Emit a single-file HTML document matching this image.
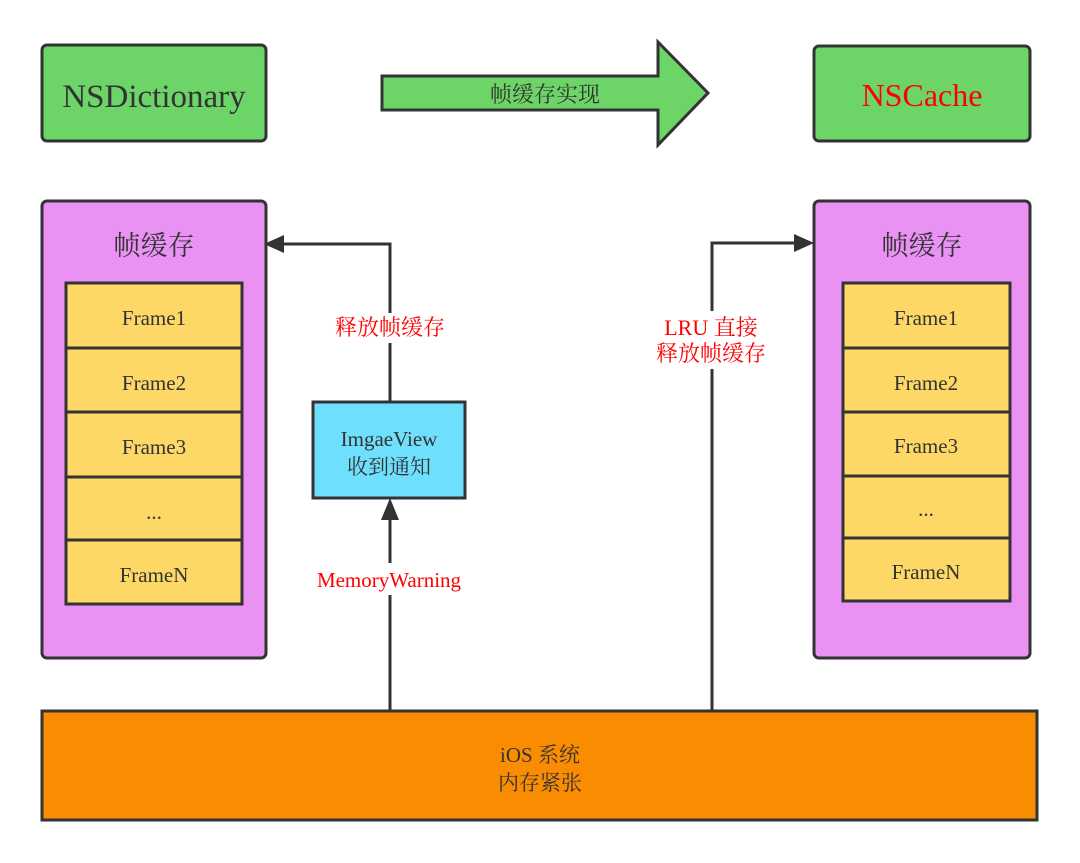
<!DOCTYPE html>
<html><head><meta charset="utf-8"><style>
html,body{margin:0;padding:0;background:#fff;}
svg{display:block;}
text{font-family:"Liberation Serif","Noto Serif CJK SC",serif;}
</style></head><body>
<svg width="1080" height="863" viewBox="0 0 1080 863" xmlns="http://www.w3.org/2000/svg">
<g stroke="#333" stroke-width="3">
<rect x="42" y="45" width="224" height="96" rx="5" fill="#6dd567"/>
<polygon points="382,76 658,76 658,42 708,93 658,145 658,110 382,110" fill="#6dd567"/>
<rect x="814" y="46" width="216" height="95" rx="5" fill="#6dd567"/>
<rect x="42" y="201" width="224" height="457" rx="5" fill="#ea92f3"/>
<rect x="814" y="201" width="216" height="457" rx="5" fill="#ea92f3"/>
<rect x="66" y="283" width="176" height="321" fill="#fdd867"/>
<line x1="66" y1="348" x2="242" y2="348"/><line x1="66" y1="412" x2="242" y2="412"/>
<line x1="66" y1="477" x2="242" y2="477"/><line x1="66" y1="540" x2="242" y2="540"/>
<rect x="843" y="283" width="167" height="318" fill="#fdd867"/>
<line x1="843" y1="348" x2="1010" y2="348"/><line x1="843" y1="412" x2="1010" y2="412"/>
<line x1="843" y1="476" x2="1010" y2="476"/><line x1="843" y1="538" x2="1010" y2="538"/>
<rect x="313" y="402" width="152" height="96" fill="#6ee0fd"/>
<rect x="42" y="711" width="995" height="109" fill="#f98c00"/>
<polyline points="390,402 390,244 282,244" fill="none"/>
<line x1="390" y1="710" x2="390" y2="518"/>
<polyline points="712,710 712,243 796,243" fill="none"/>
</g>
<g fill="#333">
<polygon points="264,244 284,235 284,253"/>
<polygon points="390,498 381,520 399,520"/>
<polygon points="814,243 794,234 794,252"/>
</g>
<rect x="330" y="313" width="120" height="30" fill="#fff"/>
<rect x="650" y="311" width="124" height="58" fill="#fff"/>
<rect x="308" y="563" width="164" height="32" fill="#fff"/>
<g text-anchor="middle" fill="#333">
<text x="154" y="107" font-size="33">NSDictionary</text>
<text x="545" y="102" font-size="22">帧缓存实现</text>
<text x="922" y="106" font-size="32" fill="#f00">NSCache</text>
<text x="154" y="255" font-size="27">帧缓存</text>
<text x="922" y="255" font-size="27">帧缓存</text>
<text x="154" y="325" font-size="21">Frame1</text>
<text x="154" y="390" font-size="21">Frame2</text>
<text x="154" y="454" font-size="21">Frame3</text>
<text x="154" y="519" font-size="21">...</text>
<text x="154" y="582" font-size="21">FrameN</text>
<text x="926" y="325" font-size="21">Frame1</text>
<text x="926" y="390" font-size="21">Frame2</text>
<text x="926" y="453" font-size="21">Frame3</text>
<text x="926" y="516" font-size="21">...</text>
<text x="926" y="579" font-size="21">FrameN</text>
<text x="389" y="446" font-size="21">ImgaeView</text>
<text x="389" y="474" font-size="21">收到通知</text>
<text x="390" y="335" font-size="22" fill="#f00">释放帧缓存</text>
<text x="711" y="335" font-size="22" fill="#f00">LRU 直接</text>
<text x="711" y="361" font-size="22" fill="#f00">释放帧缓存</text>
<text x="389" y="587" font-size="21" fill="#f00">MemoryWarning</text>
<text x="540" y="762" font-size="21">iOS 系统</text>
<text x="540" y="790" font-size="21">内存紧张</text>
</g>
</svg>
</body></html>
